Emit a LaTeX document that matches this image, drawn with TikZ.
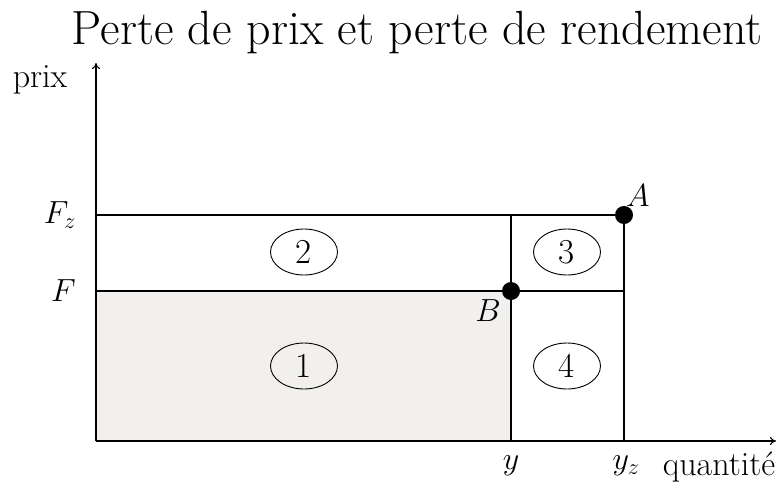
\RequirePackage{fix-cm}
\documentclass[tikz,border=0pt]{standalone}
\usepackage{fontspec}
\usetikzlibrary{arrows.meta,shapes.geometric}
\definecolor{areagray}{RGB}{241,240,238}
\tikzset{
  lbl/.style={font=\fontsize{32}{38}\selectfont, inner sep=0pt},
  txt/.style={font=\fontsize{34}{40}\selectfont, inner sep=0pt},
  ttl/.style={font=\fontsize{48}{56}\selectfont, inner sep=0pt},
  ln/.style={line width=1.1pt},
  axis/.style={line width=1.1pt, -{To[length=6pt,width=8pt]}},
  num/.style={draw, ellipse, line width=0.9pt, minimum width=67pt, minimum height=46pt, inner sep=0pt, font=\fontsize{35}{42}\selectfont},
  dot/.style={circle, fill=black, minimum size=18pt, inner sep=0pt}
}
\begin{document}
\begin{tikzpicture}[x=1pt,y=-1pt]
\useasboundingbox (0,0) rectangle (778,482);
% coordinates
\coordinate (O) at (96,441);
\coordinate (Ytop) at (96,63);
\coordinate (Xend) at (776,441);
\coordinate (Fz0) at (96,215);
\coordinate (F0) at (96,291);
\coordinate (y0) at (511,441);
\coordinate (yz0) at (624,441);
\coordinate (yFz) at (511,215);
\coordinate (yzF) at (624,291);
% shaded area
\fill[areagray] (F0) rectangle (y0);
% grid lines
\draw[ln] (Fz0) -- (624,215);
\draw[ln] (F0) -- (yzF);
\draw[ln] (yFz) -- (y0);
\draw[ln] (624,215) -- (yz0);
% axes
\draw[axis] (O) -- (Ytop);
\draw[axis] (O) -- (Xend);
% points
\node[dot] (A) at (624,215) {};
\node[dot] (B) at (511,291) {};
\node[lbl, anchor=south west] (Alab) at (626,207) {$A$};
\node[lbl, anchor=north east] (Blab) at (501,299) {$B$};
% axis labels
\node[ttl, anchor=base] (title) at (417,44) {Perte de prix et perte de rendement};
\node[txt] (prix) at (40,80) {prix};
\node[lbl, anchor=east] (Fz) at (76,215) {$F_z$};
\node[lbl, anchor=east] (F) at (76,291) {$F$};
\node[lbl] (y) at (511,466) {$y$};
\node[lbl] (yz) at (626,466) {$y_z$};
\node[txt, anchor=base] (q) at (719,475) {quantité};
% area numbers
\node[num] (n1) at (304,366) {1};
\node[num] (n2) at (304,252) {2};
\node[num] (n3) at (567,252) {3};
\node[num] (n4) at (567,366) {4};
\end{tikzpicture}
\end{document}
